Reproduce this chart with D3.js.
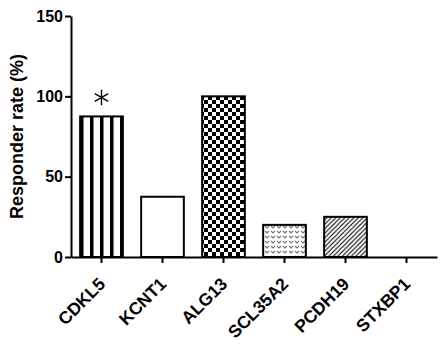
<!DOCTYPE html>
<html>
    <head>
        <meta charset="utf-8">
        <style>
          body { margin: 0; background: #fff; }
          text { font-family: Arial, "Liberation Sans", sans-serif; }
        </style>
    </head>
    <body>
        <script src="https://d3js.org/d3.v7.min.js"></script>
        <script>
          const genes = ['CDKL5', 'KCNT1', 'ALG13', 'SCL35A2', 'PCDH19', 'STXBP1'];
          const rates = [87.5, 37.5, 100, 20, 25, 0];
          const fills = ['stripes', 'none', 'checks', 'dots', 'hatch', 'none'];
          const yTicks = [0, 50, 100, 150];
          const marked = ['CDKL5'];

          function makeChart() {
            const width = 447, height = 346;
            const margin = { top: 16, right: 10, bottom: 89, left: 71 };

            const svg = d3.select('body').append('svg')
              .attr('width', width)
              .attr('height', height);

            const defs = svg.append('defs');

            // vertical stripes
            const stripes = defs.append('pattern').attr('id', 'stripes')
              .attr('patternUnits', 'userSpaceOnUse').attr('width', 10).attr('height', 10);
            stripes.append('rect').attr('width', 10).attr('height', 10).attr('fill', '#fff');
            stripes.append('rect').attr('x', 0).attr('width', 3.5).attr('height', 10).attr('fill', '#000');

            // checkerboard
            const checks = defs.append('pattern').attr('id', 'checks')
              .attr('patternUnits', 'userSpaceOnUse').attr('width', 8).attr('height', 8);
            checks.append('rect').attr('width', 8).attr('height', 8).attr('fill', '#fff');
            checks.append('rect').attr('width', 4).attr('height', 4).attr('fill', '#000');
            checks.append('rect').attr('x', 4).attr('y', 4).attr('width', 4).attr('height', 4).attr('fill', '#000');

            // small v marks
            const dots = defs.append('pattern').attr('id', 'dots')
              .attr('patternUnits', 'userSpaceOnUse').attr('width', 6).attr('height', 5);
            dots.append('rect').attr('width', 6).attr('height', 5).attr('fill', '#fff');
            dots.append('path').attr('d', 'M1,1 L3,3 L5,1').attr('fill', 'none')
              .attr('stroke', '#777').attr('stroke-width', 1.1);

            // diagonal hatch
            const hatch = defs.append('pattern').attr('id', 'hatch')
              .attr('patternUnits', 'userSpaceOnUse').attr('width', 4.5).attr('height', 4.5);
            hatch.append('rect').attr('width', 4.5).attr('height', 4.5).attr('fill', '#fff');
            hatch.append('path').attr('d', 'M-1,1 l2,-2 M0,4.5 l4.5,-4.5 M3.5,5.5 l2,-2')
              .attr('stroke', '#000').attr('stroke-width', 1.1);

            const x = d3.scaleBand()
              .domain(genes)
              .range([margin.left, width - margin.right])
              .paddingInner(0.3)
              .paddingOuter(0.15);

            const y = d3.scaleLinear()
              .domain([0, 150])
              .range([height - margin.bottom, margin.top]);

            const data = genes.map((g, i) => ({ gene: g, rate: rates[i], fill: fills[i] }));

            svg.append('g')
              .selectAll('rect')
              .data(data.filter(d => d.rate > 0))
              .join('rect')
              .attr('x', d => x(d.gene))
              .attr('y', d => y(d.rate))
              .attr('width', x.bandwidth())
              .attr('height', d => y(0) - y(d.rate))
              .attr('fill', d => d.fill === 'none' ? '#fff' : `url(#${d.fill})`)
              .attr('stroke', '#000')
              .attr('stroke-width', 2);

            // significance star
            svg.append('g')
              .selectAll('path')
              .data(data.filter(d => marked.includes(d.gene)))
              .join('path')
              .attr('transform', d => `translate(${x(d.gene) + x.bandwidth() / 2},${y(d.rate) - 19})`)
              .attr('d', d3.symbol(d3.symbolAsterisk, 170))
              .attr('fill', 'none')
              .attr('stroke', '#000')
              .attr('stroke-width', 1.4);

            // axes
            const yAxis = svg.append('g')
              .attr('transform', `translate(${margin.left},0)`)
              .call(d3.axisLeft(y).tickValues(yTicks).tickSize(6).tickPadding(2).tickSizeOuter(0));
            yAxis.select('.domain').attr('stroke-width', 2);
            yAxis.selectAll('.tick line').attr('stroke-width', 2);
            yAxis.selectAll('.tick text')
              .style('font-size', '16px').style('font-weight', 'bold').attr('fill', '#000');

            const xAxis = svg.append('g')
              .attr('transform', `translate(0,${y(0)})`)
              .call(d3.axisBottom(x).tickSize(6).tickSizeOuter(0).tickPadding(2));
            xAxis.select('.domain').attr('stroke-width', 2);
            xAxis.selectAll('.tick line').attr('stroke-width', 2);
            xAxis.selectAll('.tick text')
              .style('font-size', '17.5px').style('font-weight', 'bold').attr('fill', '#000')
              .attr('text-anchor', 'end')
              .attr('dy', null)
              .attr('y', 0)
              .attr('transform', 'translate(5,28) rotate(-45)');

            svg.append('text')
              .attr('transform', `translate(23,${(y(0) + y(150)) / 2}) rotate(-90)`)
              .attr('text-anchor', 'middle')
              .style('font-size', '18px')
              .style('font-weight', 'bold')
              .text('Responder rate (%)');
          }

          makeChart();
        </script>
    </body>
</html>
